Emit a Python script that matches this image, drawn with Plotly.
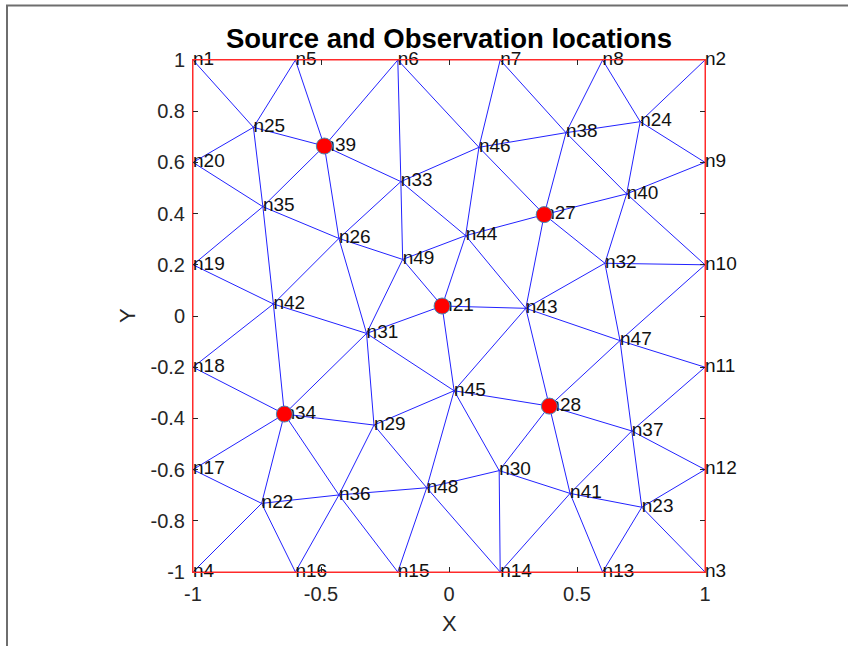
import plotly.graph_objects as go

# Mesh node coordinates (n1 ... n49)
node_x = [-1.0, 1.0, 1.0, -1.0, -0.6, -0.2, 0.2, 0.6, 1.0, 1.0,
          1.0, 1.0, 0.6, 0.2, -0.2, -0.6, -1.0, -1.0, -1.0, -1.0,
          -0.027, -0.732, 0.753, 0.747, -0.764, -0.430, 0.372, 0.392, -0.293, 0.196,
          -0.322, 0.609, -0.188, -0.643, -0.727, -0.430, 0.714, 0.457, -0.487, 0.694,
          0.473, -0.686, 0.300, 0.065, 0.020, 0.117, 0.668, -0.087, -0.181]
node_y = [1.0, 1.0, -1.0, -1.0, 1.0, 1.0, 1.0, 1.0, 0.6, 0.2,
          -0.2, -0.6, -1.0, -1.0, -1.0, -1.0, -0.6, -0.2, 0.2, 0.6,
          0.039, -0.732, -0.747, 0.759, 0.737, 0.303, 0.396, -0.352, -0.426, -0.604,
          -0.068, 0.206, 0.525, -0.383, 0.427, -0.699, -0.449, 0.716, 0.664, 0.477,
          -0.693, 0.047, 0.030, 0.314, -0.292, 0.659, -0.096, -0.671, 0.221]
node_labels = ["n%d" % (i + 1) for i in range(len(node_x))]

# Interior mesh edges (1-based node numbers)
edges = [
    (1, 25), (5, 25), (5, 39), (25, 39), (25, 20), (25, 35), (20, 35), (39, 35),
    (39, 6), (39, 33), (39, 26), (35, 26), (35, 19), (35, 42), (6, 33), (6, 46),
    (33, 46), (33, 26), (33, 49), (33, 44), (26, 49), (26, 42), (26, 31), (49, 21),
    (49, 31), (49, 44), (42, 19), (42, 31), (42, 18), (42, 34), (21, 44), (21, 43),
    (21, 31), (21, 45), (7, 46), (7, 38), (8, 38), (8, 24), (2, 24), (24, 9),
    (24, 38), (24, 40), (38, 46), (38, 40), (38, 27), (46, 27), (46, 44), (9, 40),
    (40, 27), (40, 32), (40, 10), (27, 44), (27, 32), (27, 43), (44, 43), (32, 43),
    (32, 10), (32, 47), (10, 47), (43, 47), (43, 45), (43, 28), (47, 28), (47, 11),
    (47, 37), (11, 37), (28, 45), (28, 37), (28, 30), (28, 41), (37, 41), (37, 12),
    (37, 23), (12, 23), (23, 41), (23, 13), (23, 3), (41, 13), (41, 14), (41, 30),
    (30, 14), (30, 45), (30, 48), (48, 14), (45, 48), (45, 29), (45, 31), (18, 34),
    (31, 34), (31, 29), (34, 29), (34, 17), (34, 22), (34, 36), (17, 22), (4, 22),
    (22, 16), (22, 36), (16, 36), (36, 15), (36, 29), (36, 48), (29, 48), (48, 15),
]

# Boundary loop of the square domain
boundary = [1, 5, 6, 7, 8, 2, 9, 10, 11, 12, 3, 13, 14, 15, 16, 4, 17, 18, 19, 20, 1]

# Source / observation nodes
marked_nodes = [39, 27, 21, 34, 28]

tick_x = [-1, -0.5, 0, 0.5, 1]
tick_y = [-1, -0.8, -0.6, -0.4, -0.2, 0, 0.2, 0.4, 0.6, 0.8, 1]

FONT = "Liberation Sans, Arial, Helvetica, sans-serif"

ex, ey = [], []
for a, b in edges:
    ex += [node_x[a - 1], node_x[b - 1], None]
    ey += [node_y[a - 1], node_y[b - 1], None]

fig = go.Figure()
fig.add_trace(go.Scatter(x=ex, y=ey, mode="lines",
                         line=dict(color="#2222ff", width=1),
                         hoverinfo="skip", showlegend=False))
fig.add_trace(go.Scatter(x=[node_x[i - 1] for i in boundary],
                         y=[node_y[i - 1] for i in boundary],
                         mode="lines", line=dict(color="#ff2a2a", width=1),
                         cliponaxis=False,
                         hoverinfo="skip", showlegend=False))
fig.add_trace(go.Scatter(x=node_x, y=node_y, mode="text", text=node_labels,
                         textposition="middle right", cliponaxis=False,
                         textfont=dict(family=FONT, size=19, color="#111111"),
                         hoverinfo="skip", showlegend=False))
fig.add_trace(go.Scatter(x=[node_x[i - 1] for i in marked_nodes],
                         y=[node_y[i - 1] for i in marked_nodes],
                         mode="markers", cliponaxis=False,
                         marker=dict(size=16, color="#ff0000",
                                     line=dict(color="#4a86b0", width=1)),
                         hoverinfo="skip", showlegend=False))

axis_common = dict(showgrid=False, zeroline=False, showline=True,
                   linecolor="#ff2a2a", linewidth=1, mirror="ticks",
                   ticks="inside", ticklen=5, tickwidth=1, tickcolor="#262626",
                   tickfont=dict(family=FONT, size=20, color="#262626"))

fig.update_layout(
    width=848, height=646,
    margin=dict(l=193, r=143, t=60, b=74),
    paper_bgcolor="white", plot_bgcolor="white",
    title=dict(text="<b>Source and Observation locations</b>",
               x=449 / 848, xanchor="center", y=1 - 38 / 646, yanchor="middle",
               font=dict(family=FONT, size=27.5, color="black")),
    xaxis=dict(range=[-1, 1], tickvals=tick_x, ticklabelstandoff=4,
               ticktext=["-1", "-0.5", "0", "0.5", "1"], **axis_common),
    yaxis=dict(range=[-1, 1], tickvals=tick_y, ticklabelstandoff=3,
               ticktext=["-1", "-0.8", "-0.6", "-0.4", "-0.2", "0",
                         "0.2", "0.4", "0.6", "0.8", "1"], **axis_common),
    annotations=[
        dict(text="X", xref="paper", yref="paper", x=0.5, y=(572 - 623) / 512,
             xanchor="center", yanchor="middle", showarrow=False,
             font=dict(family=FONT, size=22, color="#262626")),
        dict(text="Y", xref="paper", yref="paper", x=(127 - 193) / 512, y=0.5,
             xanchor="center", yanchor="middle", showarrow=False, textangle=-90,
             font=dict(family=FONT, size=22, color="#262626")),
    ],
    shapes=[
        dict(type="line", xref="paper", yref="paper",
             x0=(6 - 193) / 512, x1=(848 - 193) / 512,
             y0=1 + (60 - 5.5) / 512, y1=1 + (60 - 5.5) / 512,
             line=dict(color="#6e6e6e", width=2)),
        dict(type="line", xref="paper", yref="paper",
             x0=(7 - 193) / 512, x1=(7 - 193) / 512,
             y0=1 + (60 - 5) / 512, y1=(572 - 646) / 512,
             line=dict(color="#6e6e6e", width=2)),
    ],
)

fig.write_html("out.html")
